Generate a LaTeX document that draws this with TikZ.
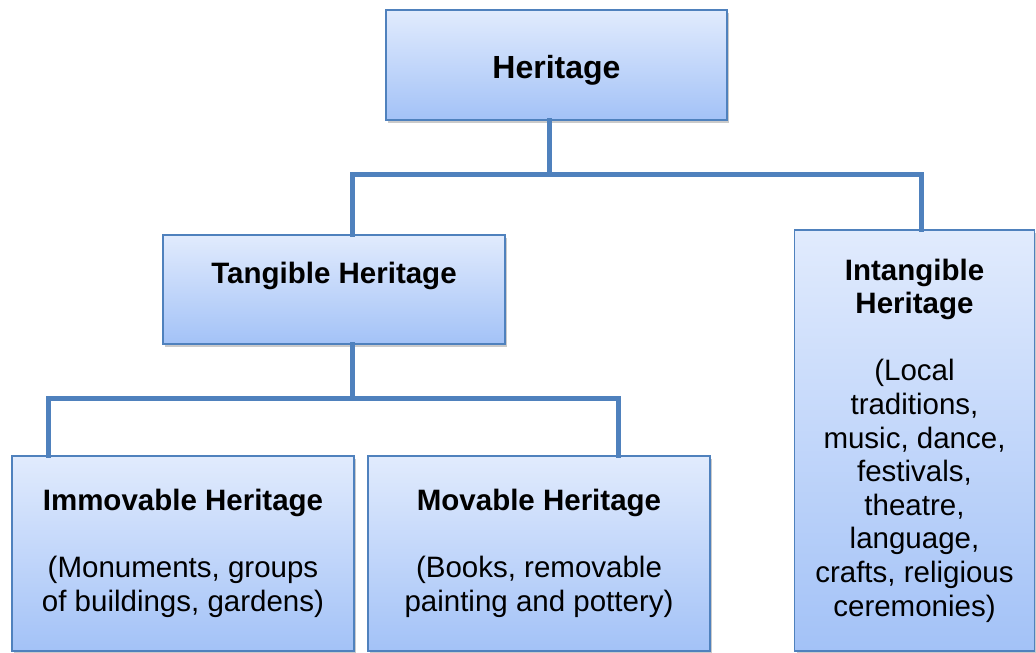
\documentclass[tikz,border=0pt]{standalone}
\usepackage{fontspec}
\setmainfont{Liberation Sans}
\usetikzlibrary{shadows,calc}
\definecolor{linkblue}{HTML}{4F81BD}
\definecolor{boxtop}{HTML}{E1EBFD}
\definecolor{boxbot}{HTML}{A3C2F7}
\tikzset{
  box/.style={draw=linkblue, line width=1.6pt, rectangle, inner sep=0pt,
    top color=boxtop, bottom color=boxbot, align=center,
    font=\fontsize{29.5}{33.6}\selectfont,
    drop shadow={shadow xshift=2pt, shadow yshift=-3pt, opacity=0.35, fill=black!60}},
  conn/.style={draw=linkblue, line width=5pt, line cap=rect}
}
\begin{document}
\begin{tikzpicture}[x=1pt,y=-1pt]
\useasboundingbox (0,0) rectangle (1036,653);

% bus lines and their drop points
\coordinate (hbus) at (549,174);
\coordinate (tdrop) at (352,174);
\coordinate (idrop) at (921,174);
\coordinate (tbus) at (352,398);
\coordinate (imdrop) at (48,398);
\coordinate (mvdrop) at (618,398);

\node[box, minimum width=341, minimum height=110, font=\fontsize{32}{36}\selectfont] (her) at (556.5,65)
  {\raisebox{-5pt}[\height][\depth]{\textbf{Heritage}}};
\node[box, minimum width=342, minimum height=109] (tan) at (334,289.5) {\textbf{Tangible Heritage}\\ \mbox{}};
\node[box, minimum width=240, minimum height=421] (int) at (914.5,440.5)
  {\textbf{Intangible}\\ \textbf{Heritage}\\ \mbox{}\\ (Local\\ traditions,\\ music, dance,\\ festivals,\\ theatre,\\ language,\\ crafts, religious\\ ceremonies)};
\node[box, minimum width=342, minimum height=195] (imm) at (183,553.5)
  {\textbf{Immovable Heritage}\\ \mbox{}\\ (Monuments, groups\\ of buildings, gardens)};
\node[box, minimum width=342, minimum height=195] (mov) at (539,553.5)
  {\textbf{Movable Heritage}\\ \mbox{}\\ (Books, removable\\ painting and pottery)};

\draw[conn] (her.south -| hbus) -- (hbus);
\draw[conn] (tdrop) -- (idrop);
\draw[conn] (tdrop) -- (tan.north -| tdrop);
\draw[conn] (idrop) -- (int.north -| idrop);
\draw[conn] (tan.south -| tbus) -- (tbus);
\draw[conn] (imdrop) -- (mvdrop);
\draw[conn] (imdrop) -- (imm.north -| imdrop);
\draw[conn] (mvdrop) -- (mov.north -| mvdrop);
\end{tikzpicture}
\end{document}
